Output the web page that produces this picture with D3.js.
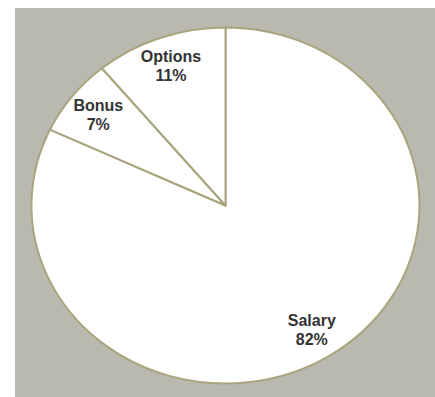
<!DOCTYPE html>
<html>
<head>
<meta charset="utf-8">
<script src="https://cdn.jsdelivr.net/npm/d3@7/dist/d3.min.js"></script>
<style>
  html, body { margin: 0; padding: 0; background: #ffffff; }
  svg { display: block; }
</style>
</head>
<body>
<script>
// Compensation mix, clockwise from 12 o'clock
const categories = ["Salary", "Bonus", "Options"];
const shares = [82, 7, 11];

const width = 435, height = 397;
const panel = { x: 15, y: 8 };
const cx = 225.5, cy = 205.5;   // pie centre
const rx = 194, ry = 178;       // the pie is drawn as an ellipse

const svg = d3.select("body").append("svg")
  .attr("width", width)
  .attr("height", height);

// grey plot panel
svg.append("rect")
  .attr("x", panel.x).attr("y", panel.y)
  .attr("width", width - panel.x).attr("height", height - panel.y)
  .attr("fill", "#bab9b0");

const data = categories.map((c, i) => ({ name: c, value: shares[i] }));

const pie = d3.pie().sort(null).value(d => d.value);
const arcs = pie(data);

// unit-radius arcs, stretched to the ellipse by the group transform
const arc = d3.arc().innerRadius(0).outerRadius(1);

const g = svg.append("g")
  .attr("transform", `translate(${cx},${cy}) scale(${rx},${ry})`);

g.selectAll("path")
  .data(arcs)
  .join("path")
  .attr("d", arc)
  .attr("fill", "#ffffff")
  .attr("stroke", "#a8a47c")
  .attr("stroke-width", 2)
  .attr("stroke-linejoin", "round")
  .attr("vector-effect", "non-scaling-stroke");

// labels sit along each slice's mid-angle
const labelFrac = 0.83;
const labels = svg.append("g")
  .attr("font-family", "Arial, 'Liberation Sans', sans-serif")
  .attr("font-weight", "bold")
  .attr("font-size", 16)
  .attr("fill", "#333333")
  .attr("text-anchor", "middle");

arcs.forEach(a => {
  const mid = (a.startAngle + a.endAngle) / 2;
  const x = cx + Math.sin(mid) * rx * labelFrac;
  const y = cy - Math.cos(mid) * ry * labelFrac;
  const t = labels.append("text").attr("x", x).attr("y", y);
  t.append("tspan").attr("x", x).attr("y", y - 4).text(a.data.name);
  t.append("tspan").attr("x", x).attr("y", y + 15).text(a.data.value + "%");
});
</script>
</body>
</html>
